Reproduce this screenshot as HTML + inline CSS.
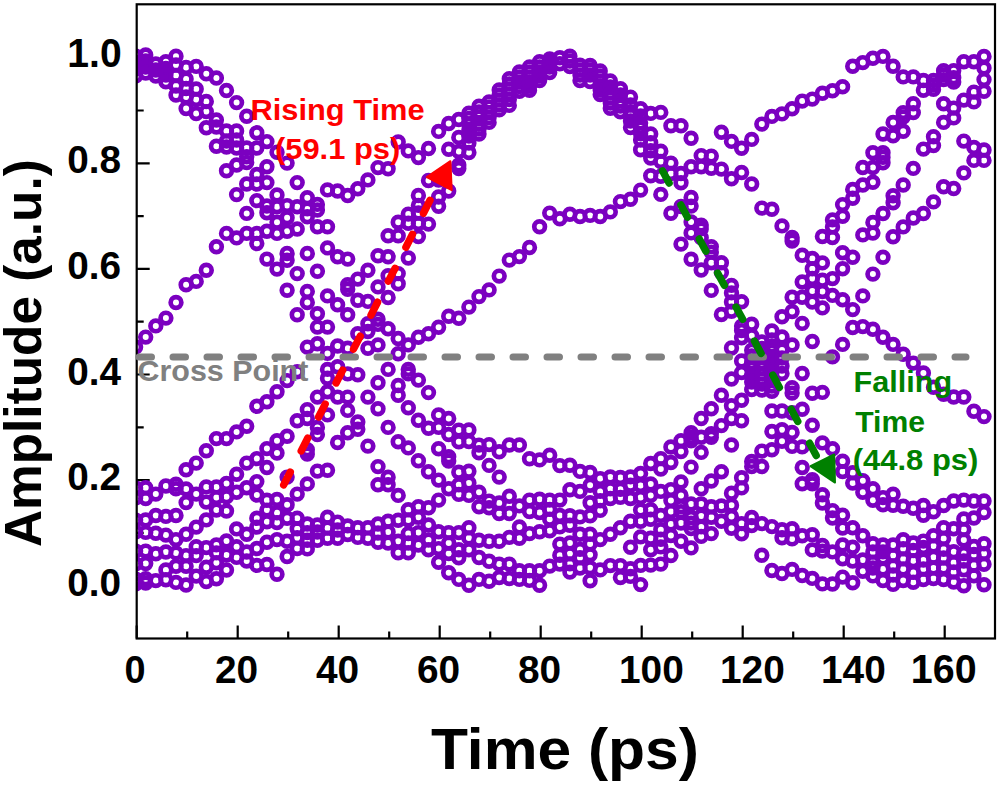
<!DOCTYPE html><html><head><meta charset="utf-8"><style>html,body{margin:0;padding:0;background:#fff;}svg{display:block;}text{font-family:"Liberation Sans",sans-serif;font-weight:bold;}</style></head><body>
<svg width="1000" height="785" viewBox="0 0 1000 785">
<defs><clipPath id="c"><rect x="136.7" y="4.3" width="858.3" height="634.2"/></clipPath></defs>
<path d="M136.7 585.7h13M136.7 532.9h7M136.7 480.1h13M136.7 427.3h7M136.7 374.5h13M136.7 321.7h7M136.7 268.9h13M136.7 216.1h7M136.7 163.3h13M136.7 110.5h7M136.7 57.7h13M136.7 638.5v-13M187.2 638.5v-7M237.7 638.5v-13M288.2 638.5v-7M338.7 638.5v-13M389.2 638.5v-7M439.7 638.5v-13M490.2 638.5v-7M540.7 638.5v-13M591.2 638.5v-7M641.7 638.5v-13M692.2 638.5v-7M742.7 638.5v-13M793.2 638.5v-7M843.7 638.5v-13M894.2 638.5v-7M944.7 638.5v-13" stroke="#000" stroke-width="2.2" fill="none"/>
<g clip-path="url(#c)" fill="none" stroke="#7B00C0" stroke-width="4.7">
<circle cx="135.6" cy="56.0" r="5.35"/>
<circle cx="135.6" cy="62.0" r="5.35"/>
<circle cx="135.6" cy="69.0" r="5.35"/>
<circle cx="135.6" cy="76.0" r="5.35"/>
<circle cx="135.6" cy="347.0" r="5.35"/>
<circle cx="135.6" cy="488.0" r="5.35"/>
<circle cx="135.6" cy="498.0" r="5.35"/>
<circle cx="135.6" cy="520.0" r="5.35"/>
<circle cx="135.6" cy="532.0" r="5.35"/>
<circle cx="135.6" cy="551.0" r="5.35"/>
<circle cx="135.6" cy="564.0" r="5.35"/>
<circle cx="135.6" cy="579.0" r="5.35"/>
<circle cx="135.6" cy="584.0" r="5.35"/>
<circle cx="145.7" cy="55.0" r="5.35"/>
<circle cx="145.7" cy="61.0" r="5.35"/>
<circle cx="145.7" cy="67.0" r="5.35"/>
<circle cx="145.7" cy="73.0" r="5.35"/>
<circle cx="145.7" cy="337.1" r="5.35"/>
<circle cx="145.7" cy="487.8" r="5.35"/>
<circle cx="145.7" cy="498.5" r="5.35"/>
<circle cx="145.7" cy="519.9" r="5.35"/>
<circle cx="145.7" cy="532.4" r="5.35"/>
<circle cx="145.7" cy="551.1" r="5.35"/>
<circle cx="145.7" cy="563.6" r="5.35"/>
<circle cx="145.7" cy="578.8" r="5.35"/>
<circle cx="145.7" cy="583.0" r="5.35"/>
<circle cx="155.8" cy="64.0" r="5.35"/>
<circle cx="155.8" cy="70.0" r="5.35"/>
<circle cx="155.8" cy="76.0" r="5.35"/>
<circle cx="155.8" cy="325.9" r="5.35"/>
<circle cx="155.8" cy="494.1" r="5.35"/>
<circle cx="155.8" cy="515.5" r="5.35"/>
<circle cx="155.8" cy="533.3" r="5.35"/>
<circle cx="155.8" cy="553.8" r="5.35"/>
<circle cx="155.8" cy="580.6" r="5.35"/>
<circle cx="165.9" cy="61.7" r="5.35"/>
<circle cx="165.9" cy="68.4" r="5.35"/>
<circle cx="165.9" cy="75.1" r="5.35"/>
<circle cx="165.9" cy="81.8" r="5.35"/>
<circle cx="165.9" cy="318.1" r="5.35"/>
<circle cx="165.9" cy="486.0" r="5.35"/>
<circle cx="165.9" cy="516.4" r="5.35"/>
<circle cx="165.9" cy="535.1" r="5.35"/>
<circle cx="165.9" cy="552.0" r="5.35"/>
<circle cx="165.9" cy="569.9" r="5.35"/>
<circle cx="165.9" cy="579.7" r="5.35"/>
<circle cx="176.0" cy="56.2" r="5.35"/>
<circle cx="176.0" cy="65.0" r="5.35"/>
<circle cx="176.0" cy="75.5" r="5.35"/>
<circle cx="176.0" cy="86.0" r="5.35"/>
<circle cx="176.0" cy="95.0" r="5.35"/>
<circle cx="176.0" cy="302.5" r="5.35"/>
<circle cx="176.0" cy="484.3" r="5.35"/>
<circle cx="176.0" cy="488.7" r="5.35"/>
<circle cx="176.0" cy="515.5" r="5.35"/>
<circle cx="176.0" cy="539.6" r="5.35"/>
<circle cx="176.0" cy="552.9" r="5.35"/>
<circle cx="176.0" cy="566.3" r="5.35"/>
<circle cx="176.0" cy="582.4" r="5.35"/>
<circle cx="186.1" cy="67.5" r="5.35"/>
<circle cx="186.1" cy="79.0" r="5.35"/>
<circle cx="186.1" cy="88.5" r="5.35"/>
<circle cx="186.1" cy="97.0" r="5.35"/>
<circle cx="186.1" cy="108.6" r="5.35"/>
<circle cx="186.1" cy="284.7" r="5.35"/>
<circle cx="186.1" cy="469.8" r="5.35"/>
<circle cx="186.1" cy="489.0" r="5.35"/>
<circle cx="186.1" cy="502.6" r="5.35"/>
<circle cx="186.1" cy="534.2" r="5.35"/>
<circle cx="186.1" cy="555.6" r="5.35"/>
<circle cx="186.1" cy="566.3" r="5.35"/>
<circle cx="186.1" cy="585.0" r="5.35"/>
<circle cx="196.2" cy="66.4" r="5.35"/>
<circle cx="196.2" cy="89.0" r="5.35"/>
<circle cx="196.2" cy="99.4" r="5.35"/>
<circle cx="196.2" cy="113.5" r="5.35"/>
<circle cx="196.2" cy="281.4" r="5.35"/>
<circle cx="196.2" cy="463.1" r="5.35"/>
<circle cx="196.2" cy="494.1" r="5.35"/>
<circle cx="196.2" cy="527.1" r="5.35"/>
<circle cx="196.2" cy="546.7" r="5.35"/>
<circle cx="196.2" cy="555.6" r="5.35"/>
<circle cx="196.2" cy="576.1" r="5.35"/>
<circle cx="206.3" cy="73.8" r="5.35"/>
<circle cx="206.3" cy="101.5" r="5.35"/>
<circle cx="206.3" cy="111.6" r="5.35"/>
<circle cx="206.3" cy="127.8" r="5.35"/>
<circle cx="206.3" cy="270.2" r="5.35"/>
<circle cx="206.3" cy="450.8" r="5.35"/>
<circle cx="206.3" cy="486.9" r="5.35"/>
<circle cx="206.3" cy="502.1" r="5.35"/>
<circle cx="206.3" cy="519.9" r="5.35"/>
<circle cx="206.3" cy="547.6" r="5.35"/>
<circle cx="206.3" cy="567.2" r="5.35"/>
<circle cx="206.3" cy="581.5" r="5.35"/>
<circle cx="216.4" cy="78.0" r="5.35"/>
<circle cx="216.4" cy="120.0" r="5.35"/>
<circle cx="216.4" cy="127.0" r="5.35"/>
<circle cx="216.4" cy="146.2" r="5.35"/>
<circle cx="216.4" cy="246.8" r="5.35"/>
<circle cx="216.4" cy="438.6" r="5.35"/>
<circle cx="216.4" cy="486.9" r="5.35"/>
<circle cx="216.4" cy="497.6" r="5.35"/>
<circle cx="216.4" cy="510.1" r="5.35"/>
<circle cx="216.4" cy="544.9" r="5.35"/>
<circle cx="216.4" cy="552.9" r="5.35"/>
<circle cx="216.4" cy="562.7" r="5.35"/>
<circle cx="216.4" cy="578.8" r="5.35"/>
<circle cx="226.5" cy="90.5" r="5.35"/>
<circle cx="226.5" cy="131.0" r="5.35"/>
<circle cx="226.5" cy="141.0" r="5.35"/>
<circle cx="226.5" cy="147.0" r="5.35"/>
<circle cx="226.5" cy="170.8" r="5.35"/>
<circle cx="226.5" cy="233.4" r="5.35"/>
<circle cx="226.5" cy="438.6" r="5.35"/>
<circle cx="226.5" cy="483.4" r="5.35"/>
<circle cx="226.5" cy="496.8" r="5.35"/>
<circle cx="226.5" cy="511.0" r="5.35"/>
<circle cx="226.5" cy="541.0" r="5.35"/>
<circle cx="226.5" cy="555.0" r="5.35"/>
<circle cx="226.5" cy="570.0" r="5.35"/>
<circle cx="236.6" cy="102.6" r="5.35"/>
<circle cx="236.6" cy="131.0" r="5.35"/>
<circle cx="236.6" cy="140.0" r="5.35"/>
<circle cx="236.6" cy="148.0" r="5.35"/>
<circle cx="236.6" cy="165.0" r="5.35"/>
<circle cx="236.6" cy="194.6" r="5.35"/>
<circle cx="236.6" cy="237.9" r="5.35"/>
<circle cx="236.6" cy="431.9" r="5.35"/>
<circle cx="236.6" cy="474.2" r="5.35"/>
<circle cx="236.6" cy="492.3" r="5.35"/>
<circle cx="236.6" cy="528.9" r="5.35"/>
<circle cx="236.6" cy="546.7" r="5.35"/>
<circle cx="236.6" cy="557.4" r="5.35"/>
<circle cx="246.7" cy="116.3" r="5.35"/>
<circle cx="246.7" cy="148.0" r="5.35"/>
<circle cx="246.7" cy="156.8" r="5.35"/>
<circle cx="246.7" cy="162.5" r="5.35"/>
<circle cx="246.7" cy="184.0" r="5.35"/>
<circle cx="246.7" cy="213.4" r="5.35"/>
<circle cx="246.7" cy="233.4" r="5.35"/>
<circle cx="246.7" cy="426.3" r="5.35"/>
<circle cx="246.7" cy="463.1" r="5.35"/>
<circle cx="246.7" cy="487.8" r="5.35"/>
<circle cx="246.7" cy="534.2" r="5.35"/>
<circle cx="246.7" cy="552.0" r="5.35"/>
<circle cx="246.7" cy="561.0" r="5.35"/>
<circle cx="256.8" cy="132.8" r="5.35"/>
<circle cx="256.8" cy="148.0" r="5.35"/>
<circle cx="256.8" cy="174.5" r="5.35"/>
<circle cx="256.8" cy="184.0" r="5.35"/>
<circle cx="256.8" cy="200.6" r="5.35"/>
<circle cx="256.8" cy="233.4" r="5.35"/>
<circle cx="256.8" cy="243.5" r="5.35"/>
<circle cx="256.8" cy="406.2" r="5.35"/>
<circle cx="256.8" cy="458.6" r="5.35"/>
<circle cx="256.8" cy="481.6" r="5.35"/>
<circle cx="256.8" cy="495.0" r="5.35"/>
<circle cx="256.8" cy="518.2" r="5.35"/>
<circle cx="256.8" cy="527.1" r="5.35"/>
<circle cx="256.8" cy="548.5" r="5.35"/>
<circle cx="256.8" cy="565.4" r="5.35"/>
<circle cx="266.9" cy="141.6" r="5.35"/>
<circle cx="266.9" cy="166.8" r="5.35"/>
<circle cx="266.9" cy="182.6" r="5.35"/>
<circle cx="266.9" cy="206.0" r="5.35"/>
<circle cx="266.9" cy="212.7" r="5.35"/>
<circle cx="266.9" cy="231.2" r="5.35"/>
<circle cx="266.9" cy="259.1" r="5.35"/>
<circle cx="266.9" cy="401.8" r="5.35"/>
<circle cx="266.9" cy="448.6" r="5.35"/>
<circle cx="266.9" cy="467.5" r="5.35"/>
<circle cx="266.9" cy="500.3" r="5.35"/>
<circle cx="266.9" cy="510.1" r="5.35"/>
<circle cx="266.9" cy="521.7" r="5.35"/>
<circle cx="266.9" cy="542.2" r="5.35"/>
<circle cx="266.9" cy="564.5" r="5.35"/>
<circle cx="277.0" cy="152.3" r="5.35"/>
<circle cx="277.0" cy="195.0" r="5.35"/>
<circle cx="277.0" cy="206.7" r="5.35"/>
<circle cx="277.0" cy="222.3" r="5.35"/>
<circle cx="277.0" cy="233.4" r="5.35"/>
<circle cx="277.0" cy="269.1" r="5.35"/>
<circle cx="277.0" cy="391.7" r="5.35"/>
<circle cx="277.0" cy="440.8" r="5.35"/>
<circle cx="277.0" cy="453.0" r="5.35"/>
<circle cx="277.0" cy="499.4" r="5.35"/>
<circle cx="277.0" cy="512.8" r="5.35"/>
<circle cx="277.0" cy="522.6" r="5.35"/>
<circle cx="277.0" cy="539.6" r="5.35"/>
<circle cx="277.0" cy="574.3" r="5.35"/>
<circle cx="287.1" cy="163.1" r="5.35"/>
<circle cx="287.1" cy="205.6" r="5.35"/>
<circle cx="287.1" cy="217.8" r="5.35"/>
<circle cx="287.1" cy="231.2" r="5.35"/>
<circle cx="287.1" cy="253.5" r="5.35"/>
<circle cx="287.1" cy="260.2" r="5.35"/>
<circle cx="287.1" cy="290.3" r="5.35"/>
<circle cx="287.1" cy="380.6" r="5.35"/>
<circle cx="287.1" cy="436.3" r="5.35"/>
<circle cx="287.1" cy="477.1" r="5.35"/>
<circle cx="287.1" cy="504.8" r="5.35"/>
<circle cx="287.1" cy="518.2" r="5.35"/>
<circle cx="287.1" cy="541.3" r="5.35"/>
<circle cx="287.1" cy="556.5" r="5.35"/>
<circle cx="297.2" cy="182.6" r="5.35"/>
<circle cx="297.2" cy="206.7" r="5.35"/>
<circle cx="297.2" cy="229.0" r="5.35"/>
<circle cx="297.2" cy="273.6" r="5.35"/>
<circle cx="297.2" cy="314.8" r="5.35"/>
<circle cx="297.2" cy="371.7" r="5.35"/>
<circle cx="297.2" cy="420.7" r="5.35"/>
<circle cx="297.2" cy="494.1" r="5.35"/>
<circle cx="297.2" cy="518.2" r="5.35"/>
<circle cx="297.2" cy="528.8" r="5.35"/>
<circle cx="297.2" cy="537.8" r="5.35"/>
<circle cx="297.2" cy="548.5" r="5.35"/>
<circle cx="307.3" cy="197.7" r="5.35"/>
<circle cx="307.3" cy="208.9" r="5.35"/>
<circle cx="307.3" cy="216.7" r="5.35"/>
<circle cx="307.3" cy="253.5" r="5.35"/>
<circle cx="307.3" cy="291.4" r="5.35"/>
<circle cx="307.3" cy="302.5" r="5.35"/>
<circle cx="307.3" cy="347.1" r="5.35"/>
<circle cx="307.3" cy="409.6" r="5.35"/>
<circle cx="307.3" cy="418.5" r="5.35"/>
<circle cx="307.3" cy="449.7" r="5.35"/>
<circle cx="307.3" cy="454.1" r="5.35"/>
<circle cx="307.3" cy="483.9" r="5.35"/>
<circle cx="307.3" cy="524.0" r="5.35"/>
<circle cx="307.3" cy="532.6" r="5.35"/>
<circle cx="307.3" cy="540.3" r="5.35"/>
<circle cx="307.3" cy="548.9" r="5.35"/>
<circle cx="317.4" cy="204.4" r="5.35"/>
<circle cx="317.4" cy="210.0" r="5.35"/>
<circle cx="317.4" cy="226.7" r="5.35"/>
<circle cx="317.4" cy="271.3" r="5.35"/>
<circle cx="317.4" cy="313.7" r="5.35"/>
<circle cx="317.4" cy="327.1" r="5.35"/>
<circle cx="317.4" cy="343.8" r="5.35"/>
<circle cx="317.4" cy="397.1" r="5.35"/>
<circle cx="317.4" cy="427.4" r="5.35"/>
<circle cx="317.4" cy="434.5" r="5.35"/>
<circle cx="317.4" cy="471.1" r="5.35"/>
<circle cx="317.4" cy="525.0" r="5.35"/>
<circle cx="317.4" cy="532.0" r="5.35"/>
<circle cx="317.4" cy="540.3" r="5.35"/>
<circle cx="327.5" cy="189.9" r="5.35"/>
<circle cx="327.5" cy="226.7" r="5.35"/>
<circle cx="327.5" cy="247.9" r="5.35"/>
<circle cx="327.5" cy="295.9" r="5.35"/>
<circle cx="327.5" cy="327.1" r="5.35"/>
<circle cx="327.5" cy="353.4" r="5.35"/>
<circle cx="327.5" cy="369.4" r="5.35"/>
<circle cx="327.5" cy="378.3" r="5.35"/>
<circle cx="327.5" cy="391.7" r="5.35"/>
<circle cx="327.5" cy="414.9" r="5.35"/>
<circle cx="327.5" cy="470.2" r="5.35"/>
<circle cx="327.5" cy="517.3" r="5.35"/>
<circle cx="327.5" cy="528.0" r="5.35"/>
<circle cx="327.5" cy="538.3" r="5.35"/>
<circle cx="337.6" cy="191.0" r="5.35"/>
<circle cx="337.6" cy="256.8" r="5.35"/>
<circle cx="337.6" cy="304.8" r="5.35"/>
<circle cx="337.6" cy="346.0" r="5.35"/>
<circle cx="337.6" cy="366.8" r="5.35"/>
<circle cx="337.6" cy="397.1" r="5.35"/>
<circle cx="337.6" cy="442.5" r="5.35"/>
<circle cx="337.6" cy="522.1" r="5.35"/>
<circle cx="337.6" cy="530.0" r="5.35"/>
<circle cx="337.6" cy="538.3" r="5.35"/>
<circle cx="347.7" cy="195.5" r="5.35"/>
<circle cx="347.7" cy="259.1" r="5.35"/>
<circle cx="347.7" cy="284.7" r="5.35"/>
<circle cx="347.7" cy="289.2" r="5.35"/>
<circle cx="347.7" cy="314.8" r="5.35"/>
<circle cx="347.7" cy="348.2" r="5.35"/>
<circle cx="347.7" cy="373.9" r="5.35"/>
<circle cx="347.7" cy="397.1" r="5.35"/>
<circle cx="347.7" cy="410.4" r="5.35"/>
<circle cx="347.7" cy="432.7" r="5.35"/>
<circle cx="347.7" cy="525.9" r="5.35"/>
<circle cx="347.7" cy="534.5" r="5.35"/>
<circle cx="357.8" cy="188.8" r="5.35"/>
<circle cx="357.8" cy="279.1" r="5.35"/>
<circle cx="357.8" cy="300.3" r="5.35"/>
<circle cx="357.8" cy="333.7" r="5.35"/>
<circle cx="357.8" cy="374.8" r="5.35"/>
<circle cx="357.8" cy="422.0" r="5.35"/>
<circle cx="357.8" cy="429.2" r="5.35"/>
<circle cx="357.8" cy="527.8" r="5.35"/>
<circle cx="357.8" cy="537.4" r="5.35"/>
<circle cx="367.9" cy="179.9" r="5.35"/>
<circle cx="367.9" cy="270.2" r="5.35"/>
<circle cx="367.9" cy="301.4" r="5.35"/>
<circle cx="367.9" cy="323.8" r="5.35"/>
<circle cx="367.9" cy="331.5" r="5.35"/>
<circle cx="367.9" cy="348.2" r="5.35"/>
<circle cx="367.9" cy="397.1" r="5.35"/>
<circle cx="367.9" cy="446.1" r="5.35"/>
<circle cx="367.9" cy="527.8" r="5.35"/>
<circle cx="367.9" cy="538.3" r="5.35"/>
<circle cx="378.0" cy="167.6" r="5.35"/>
<circle cx="378.0" cy="255.7" r="5.35"/>
<circle cx="378.0" cy="286.9" r="5.35"/>
<circle cx="378.0" cy="319.3" r="5.35"/>
<circle cx="378.0" cy="324.4" r="5.35"/>
<circle cx="378.0" cy="344.9" r="5.35"/>
<circle cx="378.0" cy="382.8" r="5.35"/>
<circle cx="378.0" cy="408.7" r="5.35"/>
<circle cx="378.0" cy="466.6" r="5.35"/>
<circle cx="378.0" cy="484.8" r="5.35"/>
<circle cx="378.0" cy="524.0" r="5.35"/>
<circle cx="378.0" cy="533.0" r="5.35"/>
<circle cx="378.0" cy="542.2" r="5.35"/>
<circle cx="388.1" cy="168.7" r="5.35"/>
<circle cx="388.1" cy="235.7" r="5.35"/>
<circle cx="388.1" cy="256.8" r="5.35"/>
<circle cx="388.1" cy="275.8" r="5.35"/>
<circle cx="388.1" cy="297.5" r="5.35"/>
<circle cx="388.1" cy="328.8" r="5.35"/>
<circle cx="388.1" cy="369.4" r="5.35"/>
<circle cx="388.1" cy="427.4" r="5.35"/>
<circle cx="388.1" cy="477.3" r="5.35"/>
<circle cx="388.1" cy="484.8" r="5.35"/>
<circle cx="388.1" cy="521.2" r="5.35"/>
<circle cx="388.1" cy="532.0" r="5.35"/>
<circle cx="388.1" cy="543.1" r="5.35"/>
<circle cx="398.2" cy="142.0" r="5.35"/>
<circle cx="398.2" cy="222.3" r="5.35"/>
<circle cx="398.2" cy="235.7" r="5.35"/>
<circle cx="398.2" cy="273.6" r="5.35"/>
<circle cx="398.2" cy="283.7" r="5.35"/>
<circle cx="398.2" cy="338.5" r="5.35"/>
<circle cx="398.2" cy="353.8" r="5.35"/>
<circle cx="398.2" cy="385.5" r="5.35"/>
<circle cx="398.2" cy="395.3" r="5.35"/>
<circle cx="398.2" cy="441.7" r="5.35"/>
<circle cx="398.2" cy="495.4" r="5.35"/>
<circle cx="398.2" cy="520.2" r="5.35"/>
<circle cx="398.2" cy="541.2" r="5.35"/>
<circle cx="398.2" cy="552.7" r="5.35"/>
<circle cx="408.3" cy="150.9" r="5.35"/>
<circle cx="408.3" cy="214.1" r="5.35"/>
<circle cx="408.3" cy="223.2" r="5.35"/>
<circle cx="408.3" cy="258.0" r="5.35"/>
<circle cx="408.3" cy="344.9" r="5.35"/>
<circle cx="408.3" cy="369.4" r="5.35"/>
<circle cx="408.3" cy="373.9" r="5.35"/>
<circle cx="408.3" cy="407.8" r="5.35"/>
<circle cx="408.3" cy="447.9" r="5.35"/>
<circle cx="408.3" cy="509.7" r="5.35"/>
<circle cx="408.3" cy="520.0" r="5.35"/>
<circle cx="408.3" cy="533.6" r="5.35"/>
<circle cx="408.3" cy="543.0" r="5.35"/>
<circle cx="408.3" cy="552.7" r="5.35"/>
<circle cx="418.4" cy="157.6" r="5.35"/>
<circle cx="418.4" cy="195.5" r="5.35"/>
<circle cx="418.4" cy="205.4" r="5.35"/>
<circle cx="418.4" cy="213.0" r="5.35"/>
<circle cx="418.4" cy="223.6" r="5.35"/>
<circle cx="418.4" cy="236.6" r="5.35"/>
<circle cx="418.4" cy="337.3" r="5.35"/>
<circle cx="418.4" cy="380.1" r="5.35"/>
<circle cx="418.4" cy="420.3" r="5.35"/>
<circle cx="418.4" cy="460.7" r="5.35"/>
<circle cx="418.4" cy="506.8" r="5.35"/>
<circle cx="418.4" cy="517.3" r="5.35"/>
<circle cx="418.4" cy="532.6" r="5.35"/>
<circle cx="418.4" cy="545.0" r="5.35"/>
<circle cx="428.5" cy="148.5" r="5.35"/>
<circle cx="428.5" cy="180.5" r="5.35"/>
<circle cx="428.5" cy="224.1" r="5.35"/>
<circle cx="428.5" cy="333.8" r="5.35"/>
<circle cx="428.5" cy="392.6" r="5.35"/>
<circle cx="428.5" cy="428.3" r="5.35"/>
<circle cx="428.5" cy="471.8" r="5.35"/>
<circle cx="428.5" cy="507.8" r="5.35"/>
<circle cx="428.5" cy="525.0" r="5.35"/>
<circle cx="428.5" cy="540.0" r="5.35"/>
<circle cx="428.5" cy="549.8" r="5.35"/>
<circle cx="438.6" cy="131.4" r="5.35"/>
<circle cx="438.6" cy="180.0" r="5.35"/>
<circle cx="438.6" cy="197.0" r="5.35"/>
<circle cx="438.6" cy="206.2" r="5.35"/>
<circle cx="438.6" cy="327.3" r="5.35"/>
<circle cx="438.6" cy="414.9" r="5.35"/>
<circle cx="438.6" cy="427.4" r="5.35"/>
<circle cx="438.6" cy="448.8" r="5.35"/>
<circle cx="438.6" cy="480.1" r="5.35"/>
<circle cx="438.6" cy="500.1" r="5.35"/>
<circle cx="438.6" cy="531.7" r="5.35"/>
<circle cx="438.6" cy="548.6" r="5.35"/>
<circle cx="438.6" cy="562.2" r="5.35"/>
<circle cx="448.7" cy="123.5" r="5.35"/>
<circle cx="448.7" cy="149.3" r="5.35"/>
<circle cx="448.7" cy="191.0" r="5.35"/>
<circle cx="448.7" cy="316.3" r="5.35"/>
<circle cx="448.7" cy="418.5" r="5.35"/>
<circle cx="448.7" cy="434.5" r="5.35"/>
<circle cx="448.7" cy="456.8" r="5.35"/>
<circle cx="448.7" cy="461.0" r="5.35"/>
<circle cx="448.7" cy="488.7" r="5.35"/>
<circle cx="448.7" cy="532.6" r="5.35"/>
<circle cx="448.7" cy="543.0" r="5.35"/>
<circle cx="448.7" cy="553.6" r="5.35"/>
<circle cx="448.7" cy="572.7" r="5.35"/>
<circle cx="458.8" cy="119.5" r="5.35"/>
<circle cx="458.8" cy="137.4" r="5.35"/>
<circle cx="458.8" cy="151.5" r="5.35"/>
<circle cx="458.8" cy="165.0" r="5.35"/>
<circle cx="458.8" cy="168.6" r="5.35"/>
<circle cx="458.8" cy="318.2" r="5.35"/>
<circle cx="458.8" cy="430.1" r="5.35"/>
<circle cx="458.8" cy="441.7" r="5.35"/>
<circle cx="458.8" cy="472.2" r="5.35"/>
<circle cx="458.8" cy="484.8" r="5.35"/>
<circle cx="458.8" cy="494.4" r="5.35"/>
<circle cx="458.8" cy="532.6" r="5.35"/>
<circle cx="458.8" cy="549.8" r="5.35"/>
<circle cx="458.8" cy="557.8" r="5.35"/>
<circle cx="458.8" cy="579.4" r="5.35"/>
<circle cx="468.9" cy="113.3" r="5.35"/>
<circle cx="468.9" cy="118.5" r="5.35"/>
<circle cx="468.9" cy="124.0" r="5.35"/>
<circle cx="468.9" cy="130.0" r="5.35"/>
<circle cx="468.9" cy="136.0" r="5.35"/>
<circle cx="468.9" cy="143.0" r="5.35"/>
<circle cx="468.9" cy="152.5" r="5.35"/>
<circle cx="468.9" cy="307.1" r="5.35"/>
<circle cx="468.9" cy="430.0" r="5.35"/>
<circle cx="468.9" cy="441.6" r="5.35"/>
<circle cx="468.9" cy="471.3" r="5.35"/>
<circle cx="468.9" cy="482.9" r="5.35"/>
<circle cx="468.9" cy="495.4" r="5.35"/>
<circle cx="468.9" cy="527.8" r="5.35"/>
<circle cx="468.9" cy="537.9" r="5.35"/>
<circle cx="468.9" cy="549.8" r="5.35"/>
<circle cx="468.9" cy="585.2" r="5.35"/>
<circle cx="479.0" cy="106.3" r="5.35"/>
<circle cx="479.0" cy="112.0" r="5.35"/>
<circle cx="479.0" cy="117.0" r="5.35"/>
<circle cx="479.0" cy="124.2" r="5.35"/>
<circle cx="479.0" cy="129.0" r="5.35"/>
<circle cx="479.0" cy="134.0" r="5.35"/>
<circle cx="479.0" cy="296.6" r="5.35"/>
<circle cx="479.0" cy="445.1" r="5.35"/>
<circle cx="479.0" cy="452.7" r="5.35"/>
<circle cx="479.0" cy="492.2" r="5.35"/>
<circle cx="479.0" cy="506.8" r="5.35"/>
<circle cx="479.0" cy="540.3" r="5.35"/>
<circle cx="479.0" cy="557.5" r="5.35"/>
<circle cx="479.0" cy="579.4" r="5.35"/>
<circle cx="489.1" cy="101.9" r="5.35"/>
<circle cx="489.1" cy="107.0" r="5.35"/>
<circle cx="489.1" cy="112.6" r="5.35"/>
<circle cx="489.1" cy="117.5" r="5.35"/>
<circle cx="489.1" cy="122.4" r="5.35"/>
<circle cx="489.1" cy="289.9" r="5.35"/>
<circle cx="489.1" cy="444.6" r="5.35"/>
<circle cx="489.1" cy="465.4" r="5.35"/>
<circle cx="489.1" cy="501.1" r="5.35"/>
<circle cx="489.1" cy="507.8" r="5.35"/>
<circle cx="489.1" cy="541.2" r="5.35"/>
<circle cx="489.1" cy="561.3" r="5.35"/>
<circle cx="489.1" cy="581.3" r="5.35"/>
<circle cx="499.2" cy="90.0" r="5.35"/>
<circle cx="499.2" cy="95.0" r="5.35"/>
<circle cx="499.2" cy="100.0" r="5.35"/>
<circle cx="499.2" cy="105.0" r="5.35"/>
<circle cx="499.2" cy="109.9" r="5.35"/>
<circle cx="499.2" cy="276.1" r="5.35"/>
<circle cx="499.2" cy="451.8" r="5.35"/>
<circle cx="499.2" cy="477.1" r="5.35"/>
<circle cx="499.2" cy="503.0" r="5.35"/>
<circle cx="499.2" cy="513.5" r="5.35"/>
<circle cx="499.2" cy="541.2" r="5.35"/>
<circle cx="499.2" cy="564.1" r="5.35"/>
<circle cx="499.2" cy="577.5" r="5.35"/>
<circle cx="509.3" cy="78.7" r="5.35"/>
<circle cx="509.3" cy="84.0" r="5.35"/>
<circle cx="509.3" cy="89.0" r="5.35"/>
<circle cx="509.3" cy="94.0" r="5.35"/>
<circle cx="509.3" cy="99.5" r="5.35"/>
<circle cx="509.3" cy="105.4" r="5.35"/>
<circle cx="509.3" cy="260.1" r="5.35"/>
<circle cx="509.3" cy="445.0" r="5.35"/>
<circle cx="509.3" cy="496.3" r="5.35"/>
<circle cx="509.3" cy="513.5" r="5.35"/>
<circle cx="509.3" cy="537.4" r="5.35"/>
<circle cx="509.3" cy="564.1" r="5.35"/>
<circle cx="509.3" cy="578.5" r="5.35"/>
<circle cx="519.4" cy="72.0" r="5.35"/>
<circle cx="519.4" cy="77.0" r="5.35"/>
<circle cx="519.4" cy="82.0" r="5.35"/>
<circle cx="519.4" cy="86.5" r="5.35"/>
<circle cx="519.4" cy="91.2" r="5.35"/>
<circle cx="519.4" cy="256.6" r="5.35"/>
<circle cx="519.4" cy="445.0" r="5.35"/>
<circle cx="519.4" cy="505.9" r="5.35"/>
<circle cx="519.4" cy="526.9" r="5.35"/>
<circle cx="519.4" cy="538.3" r="5.35"/>
<circle cx="519.4" cy="570.8" r="5.35"/>
<circle cx="519.4" cy="579.4" r="5.35"/>
<circle cx="529.5" cy="67.0" r="5.35"/>
<circle cx="529.5" cy="72.0" r="5.35"/>
<circle cx="529.5" cy="77.0" r="5.35"/>
<circle cx="529.5" cy="82.0" r="5.35"/>
<circle cx="529.5" cy="86.0" r="5.35"/>
<circle cx="529.5" cy="90.3" r="5.35"/>
<circle cx="529.5" cy="247.5" r="5.35"/>
<circle cx="529.5" cy="458.7" r="5.35"/>
<circle cx="529.5" cy="500.1" r="5.35"/>
<circle cx="529.5" cy="511.6" r="5.35"/>
<circle cx="529.5" cy="533.6" r="5.35"/>
<circle cx="529.5" cy="570.8" r="5.35"/>
<circle cx="529.5" cy="580.4" r="5.35"/>
<circle cx="539.6" cy="61.8" r="5.35"/>
<circle cx="539.6" cy="67.0" r="5.35"/>
<circle cx="539.6" cy="72.0" r="5.35"/>
<circle cx="539.6" cy="76.0" r="5.35"/>
<circle cx="539.6" cy="80.5" r="5.35"/>
<circle cx="539.6" cy="226.8" r="5.35"/>
<circle cx="539.6" cy="459.9" r="5.35"/>
<circle cx="539.6" cy="499.2" r="5.35"/>
<circle cx="539.6" cy="512.6" r="5.35"/>
<circle cx="539.6" cy="531.7" r="5.35"/>
<circle cx="539.6" cy="570.8" r="5.35"/>
<circle cx="539.6" cy="585.2" r="5.35"/>
<circle cx="549.7" cy="59.0" r="5.35"/>
<circle cx="549.7" cy="63.0" r="5.35"/>
<circle cx="549.7" cy="67.0" r="5.35"/>
<circle cx="549.7" cy="72.5" r="5.35"/>
<circle cx="549.7" cy="213.1" r="5.35"/>
<circle cx="549.7" cy="455.3" r="5.35"/>
<circle cx="549.7" cy="500.1" r="5.35"/>
<circle cx="549.7" cy="509.4" r="5.35"/>
<circle cx="549.7" cy="519.2" r="5.35"/>
<circle cx="549.7" cy="530.7" r="5.35"/>
<circle cx="549.7" cy="566.1" r="5.35"/>
<circle cx="559.8" cy="57.7" r="5.35"/>
<circle cx="559.8" cy="63.7" r="5.35"/>
<circle cx="559.8" cy="218.8" r="5.35"/>
<circle cx="559.8" cy="465.6" r="5.35"/>
<circle cx="559.8" cy="500.1" r="5.35"/>
<circle cx="559.8" cy="515.4" r="5.35"/>
<circle cx="559.8" cy="526.9" r="5.35"/>
<circle cx="559.8" cy="544.1" r="5.35"/>
<circle cx="559.8" cy="555.2" r="5.35"/>
<circle cx="559.8" cy="564.1" r="5.35"/>
<circle cx="569.9" cy="56.3" r="5.35"/>
<circle cx="569.9" cy="61.0" r="5.35"/>
<circle cx="569.9" cy="66.5" r="5.35"/>
<circle cx="569.9" cy="214.2" r="5.35"/>
<circle cx="569.9" cy="465.2" r="5.35"/>
<circle cx="569.9" cy="489.8" r="5.35"/>
<circle cx="569.9" cy="515.8" r="5.35"/>
<circle cx="569.9" cy="525.2" r="5.35"/>
<circle cx="569.9" cy="542.9" r="5.35"/>
<circle cx="569.9" cy="553.7" r="5.35"/>
<circle cx="569.9" cy="563.9" r="5.35"/>
<circle cx="569.9" cy="572.1" r="5.35"/>
<circle cx="580.0" cy="65.2" r="5.35"/>
<circle cx="580.0" cy="70.0" r="5.35"/>
<circle cx="580.0" cy="75.0" r="5.35"/>
<circle cx="580.0" cy="80.5" r="5.35"/>
<circle cx="580.0" cy="216.5" r="5.35"/>
<circle cx="580.0" cy="471.4" r="5.35"/>
<circle cx="580.0" cy="491.4" r="5.35"/>
<circle cx="580.0" cy="516.9" r="5.35"/>
<circle cx="580.0" cy="534.2" r="5.35"/>
<circle cx="580.0" cy="549.4" r="5.35"/>
<circle cx="580.0" cy="557.8" r="5.35"/>
<circle cx="580.0" cy="568.0" r="5.35"/>
<circle cx="590.1" cy="65.5" r="5.35"/>
<circle cx="590.1" cy="70.0" r="5.35"/>
<circle cx="590.1" cy="75.0" r="5.35"/>
<circle cx="590.1" cy="81.5" r="5.35"/>
<circle cx="590.1" cy="215.4" r="5.35"/>
<circle cx="590.1" cy="472.5" r="5.35"/>
<circle cx="590.1" cy="485.3" r="5.35"/>
<circle cx="590.1" cy="502.8" r="5.35"/>
<circle cx="590.1" cy="515.8" r="5.35"/>
<circle cx="590.1" cy="534.2" r="5.35"/>
<circle cx="590.1" cy="543.9" r="5.35"/>
<circle cx="590.1" cy="554.8" r="5.35"/>
<circle cx="590.1" cy="567.8" r="5.35"/>
<circle cx="590.1" cy="580.8" r="5.35"/>
<circle cx="600.2" cy="71.0" r="5.35"/>
<circle cx="600.2" cy="76.0" r="5.35"/>
<circle cx="600.2" cy="81.0" r="5.35"/>
<circle cx="600.2" cy="86.0" r="5.35"/>
<circle cx="600.2" cy="90.0" r="5.35"/>
<circle cx="600.2" cy="94.5" r="5.35"/>
<circle cx="600.2" cy="216.5" r="5.35"/>
<circle cx="600.2" cy="478.6" r="5.35"/>
<circle cx="600.2" cy="491.4" r="5.35"/>
<circle cx="600.2" cy="500.7" r="5.35"/>
<circle cx="600.2" cy="510.4" r="5.35"/>
<circle cx="600.2" cy="539.6" r="5.35"/>
<circle cx="600.2" cy="569.9" r="5.35"/>
<circle cx="610.3" cy="81.0" r="5.35"/>
<circle cx="610.3" cy="87.0" r="5.35"/>
<circle cx="610.3" cy="93.0" r="5.35"/>
<circle cx="610.3" cy="98.0" r="5.35"/>
<circle cx="610.3" cy="103.0" r="5.35"/>
<circle cx="610.3" cy="108.2" r="5.35"/>
<circle cx="610.3" cy="211.9" r="5.35"/>
<circle cx="610.3" cy="477.0" r="5.35"/>
<circle cx="610.3" cy="488.7" r="5.35"/>
<circle cx="610.3" cy="498.5" r="5.35"/>
<circle cx="610.3" cy="534.2" r="5.35"/>
<circle cx="610.3" cy="565.6" r="5.35"/>
<circle cx="620.4" cy="88.8" r="5.35"/>
<circle cx="620.4" cy="95.0" r="5.35"/>
<circle cx="620.4" cy="101.0" r="5.35"/>
<circle cx="620.4" cy="106.0" r="5.35"/>
<circle cx="620.4" cy="111.7" r="5.35"/>
<circle cx="620.4" cy="201.6" r="5.35"/>
<circle cx="620.4" cy="477.5" r="5.35"/>
<circle cx="620.4" cy="489.2" r="5.35"/>
<circle cx="620.4" cy="497.4" r="5.35"/>
<circle cx="620.4" cy="527.7" r="5.35"/>
<circle cx="620.4" cy="565.6" r="5.35"/>
<circle cx="620.4" cy="577.5" r="5.35"/>
<circle cx="630.5" cy="97.1" r="5.35"/>
<circle cx="630.5" cy="105.0" r="5.35"/>
<circle cx="630.5" cy="111.6" r="5.35"/>
<circle cx="630.5" cy="115.3" r="5.35"/>
<circle cx="630.5" cy="121.0" r="5.35"/>
<circle cx="630.5" cy="127.5" r="5.35"/>
<circle cx="630.5" cy="199.3" r="5.35"/>
<circle cx="630.5" cy="476.9" r="5.35"/>
<circle cx="630.5" cy="485.3" r="5.35"/>
<circle cx="630.5" cy="498.5" r="5.35"/>
<circle cx="630.5" cy="521.2" r="5.35"/>
<circle cx="630.5" cy="547.2" r="5.35"/>
<circle cx="630.5" cy="568.8" r="5.35"/>
<circle cx="630.5" cy="576.4" r="5.35"/>
<circle cx="640.6" cy="108.8" r="5.35"/>
<circle cx="640.6" cy="116.0" r="5.35"/>
<circle cx="640.6" cy="123.1" r="5.35"/>
<circle cx="640.6" cy="128.0" r="5.35"/>
<circle cx="640.6" cy="133.8" r="5.35"/>
<circle cx="640.6" cy="140.0" r="5.35"/>
<circle cx="640.6" cy="149.7" r="5.35"/>
<circle cx="640.6" cy="190.1" r="5.35"/>
<circle cx="640.6" cy="473.5" r="5.35"/>
<circle cx="640.6" cy="485.5" r="5.35"/>
<circle cx="640.6" cy="497.4" r="5.35"/>
<circle cx="640.6" cy="510.0" r="5.35"/>
<circle cx="640.6" cy="521.2" r="5.35"/>
<circle cx="640.6" cy="536.9" r="5.35"/>
<circle cx="640.6" cy="565.4" r="5.35"/>
<circle cx="640.6" cy="584.6" r="5.35"/>
<circle cx="650.7" cy="113.4" r="5.35"/>
<circle cx="650.7" cy="133.9" r="5.35"/>
<circle cx="650.7" cy="142.8" r="5.35"/>
<circle cx="650.7" cy="150.8" r="5.35"/>
<circle cx="650.7" cy="158.0" r="5.35"/>
<circle cx="650.7" cy="175.7" r="5.35"/>
<circle cx="650.7" cy="463.5" r="5.35"/>
<circle cx="650.7" cy="483.9" r="5.35"/>
<circle cx="650.7" cy="495.4" r="5.35"/>
<circle cx="650.7" cy="509.7" r="5.35"/>
<circle cx="650.7" cy="519.2" r="5.35"/>
<circle cx="650.7" cy="538.3" r="5.35"/>
<circle cx="650.7" cy="549.8" r="5.35"/>
<circle cx="650.7" cy="565.1" r="5.35"/>
<circle cx="660.8" cy="112.4" r="5.35"/>
<circle cx="660.8" cy="151.2" r="5.35"/>
<circle cx="660.8" cy="161.5" r="5.35"/>
<circle cx="660.8" cy="176.2" r="5.35"/>
<circle cx="660.8" cy="194.4" r="5.35"/>
<circle cx="660.8" cy="458.6" r="5.35"/>
<circle cx="660.8" cy="469.0" r="5.35"/>
<circle cx="660.8" cy="491.4" r="5.35"/>
<circle cx="660.8" cy="515.4" r="5.35"/>
<circle cx="660.8" cy="529.7" r="5.35"/>
<circle cx="660.8" cy="539.3" r="5.35"/>
<circle cx="660.8" cy="546.9" r="5.35"/>
<circle cx="660.8" cy="564.1" r="5.35"/>
<circle cx="670.9" cy="125.8" r="5.35"/>
<circle cx="670.9" cy="163.1" r="5.35"/>
<circle cx="670.9" cy="173.5" r="5.35"/>
<circle cx="670.9" cy="213.2" r="5.35"/>
<circle cx="670.9" cy="447.0" r="5.35"/>
<circle cx="670.9" cy="462.5" r="5.35"/>
<circle cx="670.9" cy="489.6" r="5.35"/>
<circle cx="670.9" cy="500.6" r="5.35"/>
<circle cx="670.9" cy="511.6" r="5.35"/>
<circle cx="670.9" cy="524.0" r="5.35"/>
<circle cx="670.9" cy="535.5" r="5.35"/>
<circle cx="670.9" cy="555.5" r="5.35"/>
<circle cx="681.0" cy="125.8" r="5.35"/>
<circle cx="681.0" cy="173.5" r="5.35"/>
<circle cx="681.0" cy="182.8" r="5.35"/>
<circle cx="681.0" cy="206.5" r="5.35"/>
<circle cx="681.0" cy="244.1" r="5.35"/>
<circle cx="681.0" cy="440.8" r="5.35"/>
<circle cx="681.0" cy="451.5" r="5.35"/>
<circle cx="681.0" cy="482.0" r="5.35"/>
<circle cx="681.0" cy="495.4" r="5.35"/>
<circle cx="681.0" cy="506.8" r="5.35"/>
<circle cx="681.0" cy="511.8" r="5.35"/>
<circle cx="681.0" cy="523.1" r="5.35"/>
<circle cx="681.0" cy="541.2" r="5.35"/>
<circle cx="691.1" cy="138.3" r="5.35"/>
<circle cx="691.1" cy="166.8" r="5.35"/>
<circle cx="691.1" cy="197.5" r="5.35"/>
<circle cx="691.1" cy="206.1" r="5.35"/>
<circle cx="691.1" cy="221.9" r="5.35"/>
<circle cx="691.1" cy="232.9" r="5.35"/>
<circle cx="691.1" cy="259.2" r="5.35"/>
<circle cx="691.1" cy="432.7" r="5.35"/>
<circle cx="691.1" cy="437.2" r="5.35"/>
<circle cx="691.1" cy="440.8" r="5.35"/>
<circle cx="691.1" cy="467.1" r="5.35"/>
<circle cx="691.1" cy="504.0" r="5.35"/>
<circle cx="691.1" cy="517.4" r="5.35"/>
<circle cx="691.1" cy="523.1" r="5.35"/>
<circle cx="691.1" cy="528.6" r="5.35"/>
<circle cx="691.1" cy="547.9" r="5.35"/>
<circle cx="701.2" cy="155.6" r="5.35"/>
<circle cx="701.2" cy="166.8" r="5.35"/>
<circle cx="701.2" cy="225.1" r="5.35"/>
<circle cx="701.2" cy="228.9" r="5.35"/>
<circle cx="701.2" cy="237.8" r="5.35"/>
<circle cx="701.2" cy="270.0" r="5.35"/>
<circle cx="701.2" cy="418.5" r="5.35"/>
<circle cx="701.2" cy="437.2" r="5.35"/>
<circle cx="701.2" cy="452.4" r="5.35"/>
<circle cx="701.2" cy="488.7" r="5.35"/>
<circle cx="701.2" cy="504.0" r="5.35"/>
<circle cx="701.2" cy="515.9" r="5.35"/>
<circle cx="701.2" cy="526.9" r="5.35"/>
<circle cx="701.2" cy="536.4" r="5.35"/>
<circle cx="711.3" cy="156.1" r="5.35"/>
<circle cx="711.3" cy="168.2" r="5.35"/>
<circle cx="711.3" cy="246.8" r="5.35"/>
<circle cx="711.3" cy="252.1" r="5.35"/>
<circle cx="711.3" cy="262.8" r="5.35"/>
<circle cx="711.3" cy="290.4" r="5.35"/>
<circle cx="711.3" cy="408.7" r="5.35"/>
<circle cx="711.3" cy="433.6" r="5.35"/>
<circle cx="711.3" cy="437.2" r="5.35"/>
<circle cx="711.3" cy="481.0" r="5.35"/>
<circle cx="711.3" cy="506.8" r="5.35"/>
<circle cx="711.3" cy="517.3" r="5.35"/>
<circle cx="711.3" cy="533.6" r="5.35"/>
<circle cx="721.4" cy="132.3" r="5.35"/>
<circle cx="721.4" cy="169.1" r="5.35"/>
<circle cx="721.4" cy="262.8" r="5.35"/>
<circle cx="721.4" cy="272.6" r="5.35"/>
<circle cx="721.4" cy="314.5" r="5.35"/>
<circle cx="721.4" cy="395.3" r="5.35"/>
<circle cx="721.4" cy="425.6" r="5.35"/>
<circle cx="721.4" cy="471.8" r="5.35"/>
<circle cx="721.4" cy="505.9" r="5.35"/>
<circle cx="721.4" cy="521.2" r="5.35"/>
<circle cx="731.5" cy="141.4" r="5.35"/>
<circle cx="731.5" cy="178.7" r="5.35"/>
<circle cx="731.5" cy="285.4" r="5.35"/>
<circle cx="731.5" cy="292.9" r="5.35"/>
<circle cx="731.5" cy="302.0" r="5.35"/>
<circle cx="731.5" cy="311.2" r="5.35"/>
<circle cx="731.5" cy="348.0" r="5.35"/>
<circle cx="731.5" cy="379.0" r="5.35"/>
<circle cx="731.5" cy="405.8" r="5.35"/>
<circle cx="731.5" cy="418.5" r="5.35"/>
<circle cx="731.5" cy="445.0" r="5.35"/>
<circle cx="731.5" cy="493.2" r="5.35"/>
<circle cx="731.5" cy="505.2" r="5.35"/>
<circle cx="731.5" cy="516.4" r="5.35"/>
<circle cx="731.5" cy="528.2" r="5.35"/>
<circle cx="741.6" cy="148.3" r="5.35"/>
<circle cx="741.6" cy="172.5" r="5.35"/>
<circle cx="741.6" cy="301.7" r="5.35"/>
<circle cx="741.6" cy="326.1" r="5.35"/>
<circle cx="741.6" cy="330.6" r="5.35"/>
<circle cx="741.6" cy="337.8" r="5.35"/>
<circle cx="741.6" cy="361.0" r="5.35"/>
<circle cx="741.6" cy="372.6" r="5.35"/>
<circle cx="741.6" cy="400.3" r="5.35"/>
<circle cx="741.6" cy="420.8" r="5.35"/>
<circle cx="741.6" cy="477.7" r="5.35"/>
<circle cx="741.6" cy="487.9" r="5.35"/>
<circle cx="741.6" cy="523.6" r="5.35"/>
<circle cx="741.6" cy="533.8" r="5.35"/>
<circle cx="751.7" cy="139.4" r="5.35"/>
<circle cx="751.7" cy="184.0" r="5.35"/>
<circle cx="751.7" cy="324.2" r="5.35"/>
<circle cx="751.7" cy="335.8" r="5.35"/>
<circle cx="751.7" cy="350.3" r="5.35"/>
<circle cx="751.7" cy="356.0" r="5.35"/>
<circle cx="751.7" cy="362.8" r="5.35"/>
<circle cx="751.7" cy="368.2" r="5.35"/>
<circle cx="751.7" cy="376.0" r="5.35"/>
<circle cx="751.7" cy="382.0" r="5.35"/>
<circle cx="751.7" cy="389.6" r="5.35"/>
<circle cx="751.7" cy="461.4" r="5.35"/>
<circle cx="751.7" cy="466.5" r="5.35"/>
<circle cx="751.7" cy="517.5" r="5.35"/>
<circle cx="751.7" cy="525.6" r="5.35"/>
<circle cx="761.8" cy="124.1" r="5.35"/>
<circle cx="761.8" cy="208.1" r="5.35"/>
<circle cx="761.8" cy="342.0" r="5.35"/>
<circle cx="761.8" cy="348.5" r="5.35"/>
<circle cx="761.8" cy="355.0" r="5.35"/>
<circle cx="761.8" cy="362.8" r="5.35"/>
<circle cx="761.8" cy="368.2" r="5.35"/>
<circle cx="761.8" cy="374.0" r="5.35"/>
<circle cx="761.8" cy="378.9" r="5.35"/>
<circle cx="761.8" cy="384.0" r="5.35"/>
<circle cx="761.8" cy="390.0" r="5.35"/>
<circle cx="761.8" cy="451.1" r="5.35"/>
<circle cx="761.8" cy="466.5" r="5.35"/>
<circle cx="761.8" cy="523.6" r="5.35"/>
<circle cx="761.8" cy="555.2" r="5.35"/>
<circle cx="771.9" cy="116.4" r="5.35"/>
<circle cx="771.9" cy="209.2" r="5.35"/>
<circle cx="771.9" cy="330.9" r="5.35"/>
<circle cx="771.9" cy="339.9" r="5.35"/>
<circle cx="771.9" cy="345.9" r="5.35"/>
<circle cx="771.9" cy="351.2" r="5.35"/>
<circle cx="771.9" cy="358.0" r="5.35"/>
<circle cx="771.9" cy="365.0" r="5.35"/>
<circle cx="771.9" cy="372.0" r="5.35"/>
<circle cx="771.9" cy="379.0" r="5.35"/>
<circle cx="771.9" cy="386.0" r="5.35"/>
<circle cx="771.9" cy="391.3" r="5.35"/>
<circle cx="771.9" cy="411.0" r="5.35"/>
<circle cx="771.9" cy="431.5" r="5.35"/>
<circle cx="771.9" cy="449.7" r="5.35"/>
<circle cx="771.9" cy="526.6" r="5.35"/>
<circle cx="771.9" cy="570.5" r="5.35"/>
<circle cx="782.0" cy="113.9" r="5.35"/>
<circle cx="782.0" cy="225.9" r="5.35"/>
<circle cx="782.0" cy="316.8" r="5.35"/>
<circle cx="782.0" cy="336.9" r="5.35"/>
<circle cx="782.0" cy="350.0" r="5.35"/>
<circle cx="782.0" cy="358.0" r="5.35"/>
<circle cx="782.0" cy="366.0" r="5.35"/>
<circle cx="782.0" cy="373.5" r="5.35"/>
<circle cx="782.0" cy="411.0" r="5.35"/>
<circle cx="782.0" cy="429.7" r="5.35"/>
<circle cx="782.0" cy="441.3" r="5.35"/>
<circle cx="782.0" cy="529.7" r="5.35"/>
<circle cx="782.0" cy="537.8" r="5.35"/>
<circle cx="782.0" cy="573.5" r="5.35"/>
<circle cx="792.1" cy="108.8" r="5.35"/>
<circle cx="792.1" cy="237.5" r="5.35"/>
<circle cx="792.1" cy="241.0" r="5.35"/>
<circle cx="792.1" cy="297.2" r="5.35"/>
<circle cx="792.1" cy="311.5" r="5.35"/>
<circle cx="792.1" cy="345.0" r="5.35"/>
<circle cx="792.1" cy="387.8" r="5.35"/>
<circle cx="792.1" cy="393.1" r="5.35"/>
<circle cx="792.1" cy="412.7" r="5.35"/>
<circle cx="792.1" cy="432.4" r="5.35"/>
<circle cx="792.1" cy="446.4" r="5.35"/>
<circle cx="792.1" cy="528.7" r="5.35"/>
<circle cx="792.1" cy="538.9" r="5.35"/>
<circle cx="792.1" cy="569.4" r="5.35"/>
<circle cx="802.2" cy="101.1" r="5.35"/>
<circle cx="802.2" cy="255.3" r="5.35"/>
<circle cx="802.2" cy="282.0" r="5.35"/>
<circle cx="802.2" cy="297.2" r="5.35"/>
<circle cx="802.2" cy="323.4" r="5.35"/>
<circle cx="802.2" cy="373.5" r="5.35"/>
<circle cx="802.2" cy="409.2" r="5.35"/>
<circle cx="802.2" cy="446.9" r="5.35"/>
<circle cx="802.2" cy="467.5" r="5.35"/>
<circle cx="802.2" cy="483.8" r="5.35"/>
<circle cx="802.2" cy="535.8" r="5.35"/>
<circle cx="802.2" cy="575.5" r="5.35"/>
<circle cx="812.3" cy="99.1" r="5.35"/>
<circle cx="812.3" cy="258.4" r="5.35"/>
<circle cx="812.3" cy="268.8" r="5.35"/>
<circle cx="812.3" cy="278.5" r="5.35"/>
<circle cx="812.3" cy="291.0" r="5.35"/>
<circle cx="812.3" cy="302.1" r="5.35"/>
<circle cx="812.3" cy="341.5" r="5.35"/>
<circle cx="812.3" cy="393.2" r="5.35"/>
<circle cx="812.3" cy="425.2" r="5.35"/>
<circle cx="812.3" cy="479.6" r="5.35"/>
<circle cx="812.3" cy="483.8" r="5.35"/>
<circle cx="812.3" cy="534.8" r="5.35"/>
<circle cx="812.3" cy="549.9" r="5.35"/>
<circle cx="812.3" cy="578.4" r="5.35"/>
<circle cx="822.4" cy="93.2" r="5.35"/>
<circle cx="822.4" cy="236.5" r="5.35"/>
<circle cx="822.4" cy="262.9" r="5.35"/>
<circle cx="822.4" cy="280.3" r="5.35"/>
<circle cx="822.4" cy="291.6" r="5.35"/>
<circle cx="822.4" cy="307.9" r="5.35"/>
<circle cx="822.4" cy="392.4" r="5.35"/>
<circle cx="822.4" cy="442.9" r="5.35"/>
<circle cx="822.4" cy="494.8" r="5.35"/>
<circle cx="822.4" cy="503.0" r="5.35"/>
<circle cx="822.4" cy="545.5" r="5.35"/>
<circle cx="822.4" cy="551.1" r="5.35"/>
<circle cx="822.4" cy="583.9" r="5.35"/>
<circle cx="832.5" cy="90.7" r="5.35"/>
<circle cx="832.5" cy="219.9" r="5.35"/>
<circle cx="832.5" cy="226.9" r="5.35"/>
<circle cx="832.5" cy="237.6" r="5.35"/>
<circle cx="832.5" cy="278.6" r="5.35"/>
<circle cx="832.5" cy="295.4" r="5.35"/>
<circle cx="832.5" cy="356.9" r="5.35"/>
<circle cx="832.5" cy="448.7" r="5.35"/>
<circle cx="832.5" cy="510.6" r="5.35"/>
<circle cx="832.5" cy="518.0" r="5.35"/>
<circle cx="832.5" cy="551.9" r="5.35"/>
<circle cx="832.5" cy="584.0" r="5.35"/>
<circle cx="842.6" cy="86.8" r="5.35"/>
<circle cx="842.6" cy="204.6" r="5.35"/>
<circle cx="842.6" cy="216.2" r="5.35"/>
<circle cx="842.6" cy="252.7" r="5.35"/>
<circle cx="842.6" cy="268.8" r="5.35"/>
<circle cx="842.6" cy="299.8" r="5.35"/>
<circle cx="842.6" cy="344.4" r="5.35"/>
<circle cx="842.6" cy="461.3" r="5.35"/>
<circle cx="842.6" cy="471.6" r="5.35"/>
<circle cx="842.6" cy="515.2" r="5.35"/>
<circle cx="842.6" cy="528.0" r="5.35"/>
<circle cx="842.6" cy="545.0" r="5.35"/>
<circle cx="842.6" cy="558.7" r="5.35"/>
<circle cx="842.6" cy="577.1" r="5.35"/>
<circle cx="852.7" cy="66.2" r="5.35"/>
<circle cx="852.7" cy="189.4" r="5.35"/>
<circle cx="852.7" cy="198.3" r="5.35"/>
<circle cx="852.7" cy="257.2" r="5.35"/>
<circle cx="852.7" cy="309.6" r="5.35"/>
<circle cx="852.7" cy="327.5" r="5.35"/>
<circle cx="852.7" cy="472.7" r="5.35"/>
<circle cx="852.7" cy="483.1" r="5.35"/>
<circle cx="852.7" cy="527.8" r="5.35"/>
<circle cx="852.7" cy="547.3" r="5.35"/>
<circle cx="852.7" cy="561.0" r="5.35"/>
<circle cx="852.7" cy="582.8" r="5.35"/>
<circle cx="862.8" cy="62.6" r="5.35"/>
<circle cx="862.8" cy="167.5" r="5.35"/>
<circle cx="862.8" cy="185.0" r="5.35"/>
<circle cx="862.8" cy="234.9" r="5.35"/>
<circle cx="862.8" cy="295.9" r="5.35"/>
<circle cx="862.8" cy="326.6" r="5.35"/>
<circle cx="862.8" cy="480.8" r="5.35"/>
<circle cx="862.8" cy="492.2" r="5.35"/>
<circle cx="862.8" cy="535.8" r="5.35"/>
<circle cx="862.8" cy="559.9" r="5.35"/>
<circle cx="862.8" cy="571.3" r="5.35"/>
<circle cx="872.9" cy="58.2" r="5.35"/>
<circle cx="872.9" cy="152.7" r="5.35"/>
<circle cx="872.9" cy="167.5" r="5.35"/>
<circle cx="872.9" cy="182.3" r="5.35"/>
<circle cx="872.9" cy="222.4" r="5.35"/>
<circle cx="872.9" cy="233.1" r="5.35"/>
<circle cx="872.9" cy="274.1" r="5.35"/>
<circle cx="872.9" cy="329.2" r="5.35"/>
<circle cx="872.9" cy="488.8" r="5.35"/>
<circle cx="872.9" cy="500.3" r="5.35"/>
<circle cx="872.9" cy="543.8" r="5.35"/>
<circle cx="872.9" cy="552.0" r="5.35"/>
<circle cx="872.9" cy="562.2" r="5.35"/>
<circle cx="872.9" cy="568.0" r="5.35"/>
<circle cx="872.9" cy="575.9" r="5.35"/>
<circle cx="883.0" cy="56.4" r="5.35"/>
<circle cx="883.0" cy="134.0" r="5.35"/>
<circle cx="883.0" cy="152.7" r="5.35"/>
<circle cx="883.0" cy="157.2" r="5.35"/>
<circle cx="883.0" cy="162.7" r="5.35"/>
<circle cx="883.0" cy="213.5" r="5.35"/>
<circle cx="883.0" cy="257.2" r="5.35"/>
<circle cx="883.0" cy="337.3" r="5.35"/>
<circle cx="883.0" cy="497.6" r="5.35"/>
<circle cx="883.0" cy="504.8" r="5.35"/>
<circle cx="883.0" cy="545.0" r="5.35"/>
<circle cx="883.0" cy="551.9" r="5.35"/>
<circle cx="883.0" cy="558.0" r="5.35"/>
<circle cx="883.0" cy="569.0" r="5.35"/>
<circle cx="883.0" cy="580.5" r="5.35"/>
<circle cx="893.1" cy="66.2" r="5.35"/>
<circle cx="893.1" cy="122.4" r="5.35"/>
<circle cx="893.1" cy="135.8" r="5.35"/>
<circle cx="893.1" cy="195.7" r="5.35"/>
<circle cx="893.1" cy="202.8" r="5.35"/>
<circle cx="893.1" cy="236.7" r="5.35"/>
<circle cx="893.1" cy="344.4" r="5.35"/>
<circle cx="893.1" cy="494.2" r="5.35"/>
<circle cx="893.1" cy="505.3" r="5.35"/>
<circle cx="893.1" cy="545.0" r="5.35"/>
<circle cx="893.1" cy="555.6" r="5.35"/>
<circle cx="893.1" cy="566.0" r="5.35"/>
<circle cx="893.1" cy="575.0" r="5.35"/>
<circle cx="893.1" cy="584.4" r="5.35"/>
<circle cx="903.2" cy="76.9" r="5.35"/>
<circle cx="903.2" cy="112.6" r="5.35"/>
<circle cx="903.2" cy="117.0" r="5.35"/>
<circle cx="903.2" cy="131.3" r="5.35"/>
<circle cx="903.2" cy="185.0" r="5.35"/>
<circle cx="903.2" cy="226.9" r="5.35"/>
<circle cx="903.2" cy="354.2" r="5.35"/>
<circle cx="903.2" cy="506.2" r="5.35"/>
<circle cx="903.2" cy="539.8" r="5.35"/>
<circle cx="903.2" cy="548.7" r="5.35"/>
<circle cx="903.2" cy="558.9" r="5.35"/>
<circle cx="903.2" cy="568.9" r="5.35"/>
<circle cx="903.2" cy="580.5" r="5.35"/>
<circle cx="913.3" cy="76.9" r="5.35"/>
<circle cx="913.3" cy="103.7" r="5.35"/>
<circle cx="913.3" cy="112.6" r="5.35"/>
<circle cx="913.3" cy="168.4" r="5.35"/>
<circle cx="913.3" cy="218.0" r="5.35"/>
<circle cx="913.3" cy="363.1" r="5.35"/>
<circle cx="913.3" cy="508.2" r="5.35"/>
<circle cx="913.3" cy="542.9" r="5.35"/>
<circle cx="913.3" cy="550.5" r="5.35"/>
<circle cx="913.3" cy="560.8" r="5.35"/>
<circle cx="913.3" cy="572.4" r="5.35"/>
<circle cx="913.3" cy="582.2" r="5.35"/>
<circle cx="923.4" cy="80.5" r="5.35"/>
<circle cx="923.4" cy="90.3" r="5.35"/>
<circle cx="923.4" cy="149.1" r="5.35"/>
<circle cx="923.4" cy="213.5" r="5.35"/>
<circle cx="923.4" cy="372.9" r="5.35"/>
<circle cx="923.4" cy="505.5" r="5.35"/>
<circle cx="923.4" cy="515.3" r="5.35"/>
<circle cx="923.4" cy="541.1" r="5.35"/>
<circle cx="923.4" cy="547.4" r="5.35"/>
<circle cx="923.4" cy="560.0" r="5.35"/>
<circle cx="923.4" cy="569.0" r="5.35"/>
<circle cx="923.4" cy="579.5" r="5.35"/>
<circle cx="933.5" cy="80.5" r="5.35"/>
<circle cx="933.5" cy="85.0" r="5.35"/>
<circle cx="933.5" cy="89.4" r="5.35"/>
<circle cx="933.5" cy="136.7" r="5.35"/>
<circle cx="933.5" cy="145.6" r="5.35"/>
<circle cx="933.5" cy="201.9" r="5.35"/>
<circle cx="933.5" cy="387.2" r="5.35"/>
<circle cx="933.5" cy="511.7" r="5.35"/>
<circle cx="933.5" cy="535.8" r="5.35"/>
<circle cx="933.5" cy="546.0" r="5.35"/>
<circle cx="933.5" cy="557.2" r="5.35"/>
<circle cx="933.5" cy="567.9" r="5.35"/>
<circle cx="933.5" cy="578.6" r="5.35"/>
<circle cx="943.6" cy="70.7" r="5.35"/>
<circle cx="943.6" cy="75.0" r="5.35"/>
<circle cx="943.6" cy="79.6" r="5.35"/>
<circle cx="943.6" cy="103.7" r="5.35"/>
<circle cx="943.6" cy="122.4" r="5.35"/>
<circle cx="943.6" cy="186.8" r="5.35"/>
<circle cx="943.6" cy="394.3" r="5.35"/>
<circle cx="943.6" cy="505.5" r="5.35"/>
<circle cx="943.6" cy="527.8" r="5.35"/>
<circle cx="943.6" cy="538.5" r="5.35"/>
<circle cx="943.6" cy="549.2" r="5.35"/>
<circle cx="943.6" cy="558.0" r="5.35"/>
<circle cx="943.6" cy="567.9" r="5.35"/>
<circle cx="943.6" cy="579.5" r="5.35"/>
<circle cx="953.7" cy="70.7" r="5.35"/>
<circle cx="953.7" cy="77.8" r="5.35"/>
<circle cx="953.7" cy="82.0" r="5.35"/>
<circle cx="953.7" cy="108.1" r="5.35"/>
<circle cx="953.7" cy="117.9" r="5.35"/>
<circle cx="953.7" cy="188.5" r="5.35"/>
<circle cx="953.7" cy="397.0" r="5.35"/>
<circle cx="953.7" cy="501.0" r="5.35"/>
<circle cx="953.7" cy="528.7" r="5.35"/>
<circle cx="953.7" cy="551.8" r="5.35"/>
<circle cx="953.7" cy="562.6" r="5.35"/>
<circle cx="953.7" cy="572.0" r="5.35"/>
<circle cx="953.7" cy="582.0" r="5.35"/>
<circle cx="963.8" cy="61.8" r="5.35"/>
<circle cx="963.8" cy="100.1" r="5.35"/>
<circle cx="963.8" cy="141.1" r="5.35"/>
<circle cx="963.8" cy="172.9" r="5.35"/>
<circle cx="963.8" cy="397.0" r="5.35"/>
<circle cx="963.8" cy="500.1" r="5.35"/>
<circle cx="963.8" cy="518.9" r="5.35"/>
<circle cx="963.8" cy="529.6" r="5.35"/>
<circle cx="963.8" cy="540.0" r="5.35"/>
<circle cx="963.8" cy="553.6" r="5.35"/>
<circle cx="963.8" cy="561.0" r="5.35"/>
<circle cx="963.8" cy="569.7" r="5.35"/>
<circle cx="963.8" cy="585.7" r="5.35"/>
<circle cx="973.9" cy="61.8" r="5.35"/>
<circle cx="973.9" cy="92.1" r="5.35"/>
<circle cx="973.9" cy="101.9" r="5.35"/>
<circle cx="973.9" cy="147.4" r="5.35"/>
<circle cx="973.9" cy="160.4" r="5.35"/>
<circle cx="973.9" cy="411.3" r="5.35"/>
<circle cx="973.9" cy="501.0" r="5.35"/>
<circle cx="973.9" cy="518.0" r="5.35"/>
<circle cx="973.9" cy="546.5" r="5.35"/>
<circle cx="973.9" cy="554.5" r="5.35"/>
<circle cx="973.9" cy="565.2" r="5.35"/>
<circle cx="973.9" cy="575.8" r="5.35"/>
<circle cx="984.0" cy="56.4" r="5.35"/>
<circle cx="984.0" cy="68.0" r="5.35"/>
<circle cx="984.0" cy="79.6" r="5.35"/>
<circle cx="984.0" cy="91.2" r="5.35"/>
<circle cx="984.0" cy="150.0" r="5.35"/>
<circle cx="984.0" cy="160.4" r="5.35"/>
<circle cx="984.0" cy="416.6" r="5.35"/>
<circle cx="984.0" cy="501.0" r="5.35"/>
<circle cx="984.0" cy="512.6" r="5.35"/>
<circle cx="984.0" cy="543.8" r="5.35"/>
<circle cx="984.0" cy="553.6" r="5.35"/>
<circle cx="984.0" cy="564.3" r="5.35"/>
<circle cx="984.0" cy="584.8" r="5.35"/>
</g>
<rect x="136.7" y="4.3" width="858.3" height="634.2" fill="none" stroke="#000" stroke-width="2.2"/>
<g transform="matrix(0.9692 0 0 0.9786 -29.66 302.23)" fill="#000"><text x="100" y="300" font-size="40">0.0</text></g>
<g transform="matrix(0.9692 0 0 0.9786 -29.66 196.63)" fill="#000"><text x="100" y="300" font-size="40">0.2</text></g>
<g transform="matrix(0.9692 0 0 0.9786 -29.66 91.03)" fill="#000"><text x="100" y="300" font-size="40">0.4</text></g>
<g transform="matrix(0.9692 0 0 0.9786 -29.66 -14.57)" fill="#000"><text x="100" y="300" font-size="40">0.6</text></g>
<g transform="matrix(0.9692 0 0 0.9786 -29.66 -120.17)" fill="#000"><text x="100" y="300" font-size="40">0.8</text></g>
<g transform="matrix(0.9784 0 0 0.9929 -30.58 -230.66)" fill="#000"><text x="100" y="300" font-size="40">1.0</text></g>
<g transform="matrix(0.9474 0 0 0.9857 29.67 387.09)" fill="#000"><text x="100" y="300" font-size="40">0</text></g>
<g transform="matrix(0.9855 0 0 1.0143 812.30 379.11)" fill="#000"><text x="100" y="300" font-size="40">160</text></g>
<g transform="matrix(0.9714 0 0 0.9857 117.89 387.09)"><text x="100" y="300" font-size="40">20</text></g>
<g transform="matrix(0.9714 0 0 0.9857 218.89 387.09)"><text x="100" y="300" font-size="40">40</text></g>
<g transform="matrix(0.9714 0 0 0.9857 319.89 387.09)"><text x="100" y="300" font-size="40">60</text></g>
<g transform="matrix(0.9714 0 0 0.9857 420.89 387.09)"><text x="100" y="300" font-size="40">80</text></g>
<g transform="matrix(0.9714 0 0 0.9857 521.89 387.09)"><text x="100" y="300" font-size="40">100</text></g>
<g transform="matrix(0.9714 0 0 0.9857 622.89 387.09)"><text x="100" y="300" font-size="40">120</text></g>
<g transform="matrix(0.9714 0 0 0.9857 723.89 387.09)"><text x="100" y="300" font-size="40">140</text></g>
<g transform="matrix(1.0435 0 0 1.0037 326.61 468.04)" fill="#000"><text x="100" y="300" font-size="58">Time (ps)</text></g>
<g transform="matrix(0.9796 0 0 0.9871 -252.65 53.41)" fill="#000"><text transform="translate(300,500) rotate(-90)" font-size="52">Amplitude (a.u.)</text></g>
<line x1="139" y1="357" x2="966" y2="357" stroke="#808080" stroke-width="7" stroke-linecap="round" stroke-dasharray="12.5 21.5"/>
<g transform="matrix(1.0150 0 0 1.0000 35.99 81.00)" fill="#808080"><text x="100" y="300" font-size="30">Cross Point</text></g>
<path d="M283.7 484.9L290.3 472.0M301.2 450.9L307.8 438.0M318.6 417.0L325.2 404.1M336.1 383.0L342.7 370.1M353.5 349.1L360.2 336.2M371.0 315.1L377.6 302.2M388.4 281.1L395.1 268.3M405.9 247.2L412.5 234.3M423.4 213.2L430.0 200.3" stroke="#FF0000" stroke-width="7.4" stroke-linecap="round" fill="none"/>
<polygon points="450.4,161.2 426.8,177.2 451.7,190.1" fill="#FF0000" stroke="#FF0000" stroke-width="2" stroke-linejoin="round"/>
<g transform="matrix(1.0277 0 0 1.0000 147.67 -179.50)" fill="#FF0000"><text x="100" y="300" font-size="30">Rising Time</text></g>
<g transform="matrix(1.0305 0 0 1.0000 171.89 -141.10)" fill="#FF0000"><text x="100" y="300" font-size="30">(59.1 ps)</text></g>
<path d="M662.5 170.8L669.1 183.1M680.9 204.9L687.5 217.2M699.3 238.9L705.9 251.2M717.6 273.0L724.3 285.3M736.0 307.0L742.7 319.3M754.4 341.1L761.1 353.4M772.8 375.1L779.4 387.5M791.2 409.2L797.8 421.5M809.6 443.2L816.2 455.6" stroke="#008000" stroke-width="7.4" stroke-linecap="round" fill="none"/>
<polygon points="835,482.6 810.5,466.1 834.2,454.5" fill="#008000" stroke="#008000" stroke-width="2" stroke-linejoin="round"/>
<g transform="matrix(1.0215 0 0 0.9786 751.41 98.56)" fill="#008000"><text x="100" y="300" font-size="30">Falling</text></g>
<g transform="matrix(1.0059 0 0 1.0091 754.61 129.27)" fill="#008000"><text x="100" y="300" font-size="30">Time</text></g>
<g transform="matrix(1.0322 0 0 1.0143 749.52 165.93)" fill="#008000"><text x="100" y="300" font-size="30">(44.8 ps)</text></g>
</svg></body></html>
